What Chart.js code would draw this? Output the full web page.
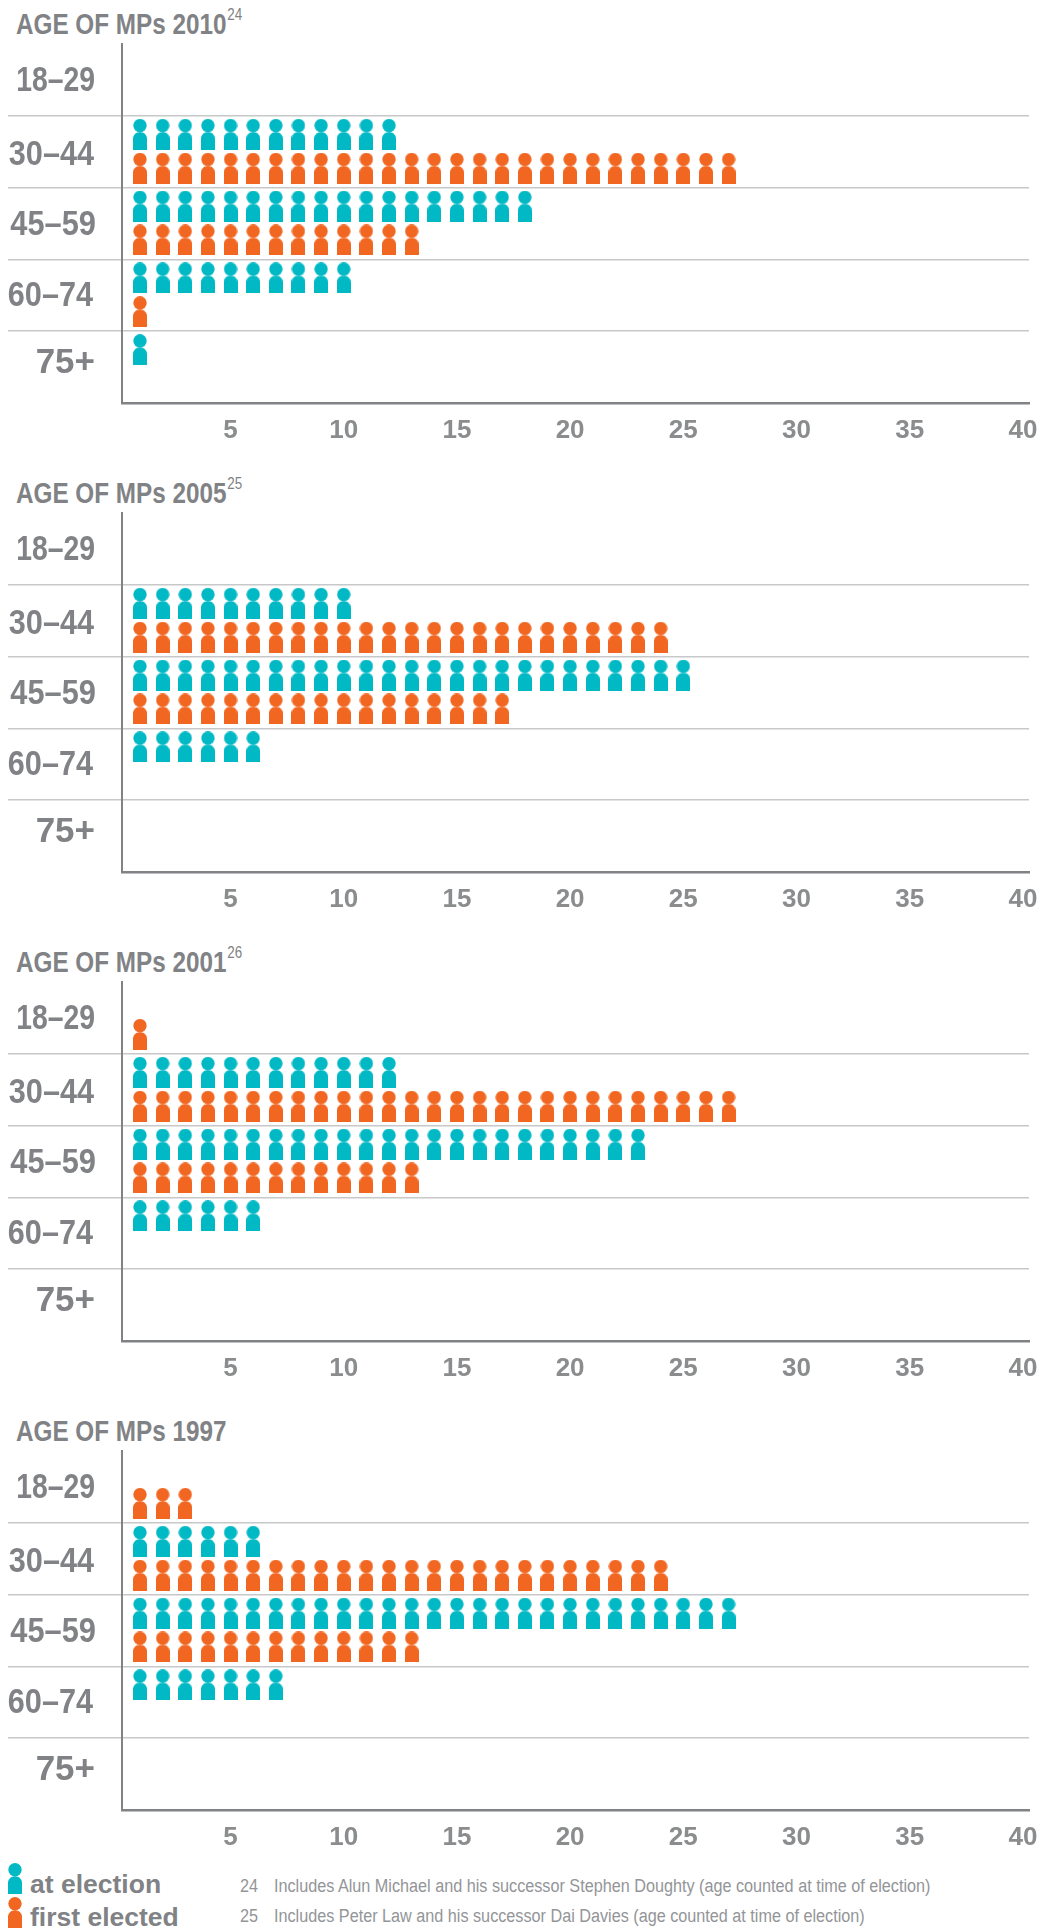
<!DOCTYPE html>
<html><head><meta charset="utf-8">
<script src="https://cdn.jsdelivr.net/npm/chart.js@4"></script>
<style>
html,body{margin:0;padding:0;background:#fff;width:1045px;height:1930px;overflow:hidden}
#root{position:relative;width:1045px;height:1930px}
canvas.panel{position:absolute;left:0}
.t{position:absolute;white-space:nowrap;color:#808285;line-height:1;transform-origin:0 0}
.title{font:bold 29px/1 "Liberation Sans",sans-serif;left:16px;transform:scaleX(.837)}
.title span{font-size:16px;position:relative;top:-14px;left:1px;font-weight:normal;display:inline-block;transform:scaleX(1)}
.leg{font:bold 26.5px/1 "Liberation Sans",sans-serif;left:30px}
.note{font:18px/1 "Liberation Sans",sans-serif;color:#939598;transform:scaleX(.9)}
</style></head><body><div id="root"></div>
<script>
const ageBands = ['18–29','30–44','45–59','60–74','75+'];
const xTickValues = [5,10,15,20,25,30,35,40];
const years = ['2010','2005','2001','1997'];
const superscripts = ['24','25','26',''];
const atElection2010 = [0,12,18,10,1];
const firstElected2010 = [0,27,13,1,0];
const atElection2005 = [0,10,25,6,0];
const firstElected2005 = [0,24,17,0,0];
const atElection2001 = [0,12,23,6,0];
const firstElected2001 = [1,27,13,0,0];
const atElection1997 = [0,6,27,7,0];
const firstElected1997 = [3,24,13,0,0];
const atElectionAll = [atElection2010,atElection2005,atElection2001,atElection1997];
const firstElectedAll = [firstElected2010,firstElected2005,firstElected2001,firstElected1997];
const footnotes = [['24','Includes Alun Michael and his successor Stephen Doughty (age counted at time of election)'],
                   ['25','Includes Peter Law and his successor Dai Davies (age counted at time of election)']];

const TEAL='#00b9c5', ORANGE='#f16722', GREY='#808285', GRID='#c7c8ca';
const PANEL_STEP=469;
const labelPos=[0.483,1.515,2.493,3.468,4.415];
const labelRight=[95,94,96,93,95];
const labelSqueeze=[.81,.875,.88,.875,1];
const boundaries=[1,2,3,4];
const root=document.getElementById('root');

function person(color){
  const c=document.createElement('canvas');c.width=14;c.height=31;
  const g=c.getContext('2d');g.fillStyle=color;
  g.beginPath();g.arc(7,6.7,6.7,0,Math.PI*2);g.fill();
  g.beginPath();g.moveTo(0,31);g.lineTo(0,20);
  g.bezierCurveTo(0,16,3,13.2,7,13.2);g.bezierCurveTo(11,13.2,14,16,14,20);g.lineTo(14,31);g.closePath();g.fill();
  return c;
}
const tealIcon=person(TEAL), orangeIcon=person(ORANGE);

const narrowBandLabels={id:'narrowBandLabels',afterDraw(chart){
  const g=chart.ctx,s=chart.scales.y;
  g.save();g.fillStyle='#808285';g.font='bold 35px "Liberation Sans"';g.textAlign='right';g.textBaseline='alphabetic';
  ageBands.forEach((t,k)=>{
    g.save();g.translate(labelRight[k],s.getPixelForValue(labelPos[k])+12.5);g.scale(labelSqueeze[k],1);
    g.fillText(t,0,0);g.restore();
  });
  g.restore();
}};

function rowPoints(counts,offset){
  const pts=[];
  counts.forEach((n,band)=>{for(let k=1;k<=n;k++)pts.push({x:k,y:band+offset});});
  return pts;
}
function addText(cls,html,left,top){
  const d=document.createElement('div');d.className='t '+cls;d.innerHTML=html;
  if(left!==null)d.style.left=left+'px';d.style.top=top+'px';root.appendChild(d);return d;
}

years.forEach((yr,i)=>{
  const T=PANEL_STEP*i;
  addText('title','AGE OF MPs '+yr+(superscripts[i]?'<span>'+superscripts[i]+'</span>':''),null,T+10);
  const cv=document.createElement('canvas');cv.className='panel';cv.style.top=T+'px';
  cv.width=1045;cv.height=440;root.appendChild(cv);
  new Chart(cv,{type:'scatter',plugins:[narrowBandLabels],
    data:{datasets:[
      {label:'at election',data:rowPoints(atElectionAll[i],0.257),pointStyle:tealIcon,backgroundColor:TEAL},
      {label:'first elected',data:rowPoints(firstElectedAll[i],0.729),pointStyle:orangeIcon,backgroundColor:ORANGE}
    ]},
    options:{responsive:false,animation:false,devicePixelRatio:1,
      layout:{padding:{left:0,right:16,top:44,bottom:0}},
      plugins:{legend:{display:false},tooltip:{enabled:false},title:{display:false}},
      scales:{
        x:{type:'linear',min:0.205,max:40.27,position:'bottom',
          afterBuildTicks:s=>{s.ticks=xTickValues.map(v=>({value:v}));},
          afterFit:s=>{s.height=37;},
          grid:{display:false},
          border:{display:true,color:GREY,width:2.5},
          ticks:{autoSkip:false,maxRotation:0,padding:4,color:'#8a8c8e',font:{family:'"Liberation Sans"',weight:'bold',size:26},callback:v=>String(v)}},
        y:{type:'linear',min:0,max:5,reverse:true,position:'left',
          afterBuildTicks:s=>{s.ticks=boundaries.map(v=>({value:v}));},
          afterFit:s=>{s.width=122;},
          grid:{lineWidth:1.5,tickLength:114,color:GRID},
          border:{display:true,color:GREY,width:2},
          ticks:{display:false}}
      }
    }
  });
});

function legendIcon(src,top){
  const c=document.createElement('canvas');c.width=src.width;c.height=src.height;
  c.getContext('2d').drawImage(src,0,0);
  c.style.cssText='position:absolute;left:8px;top:'+top+'px';root.appendChild(c);
}
legendIcon(tealIcon,1863);legendIcon(orangeIcon,1897);
addText('leg','at election',null,1871);
addText('leg','first elected',null,1904);
footnotes.forEach((f,k)=>{
  const top=1877+k*30;
  addText('note',f[0],240,top);
  addText('note',f[1],274,top);
});
</script></body></html>
